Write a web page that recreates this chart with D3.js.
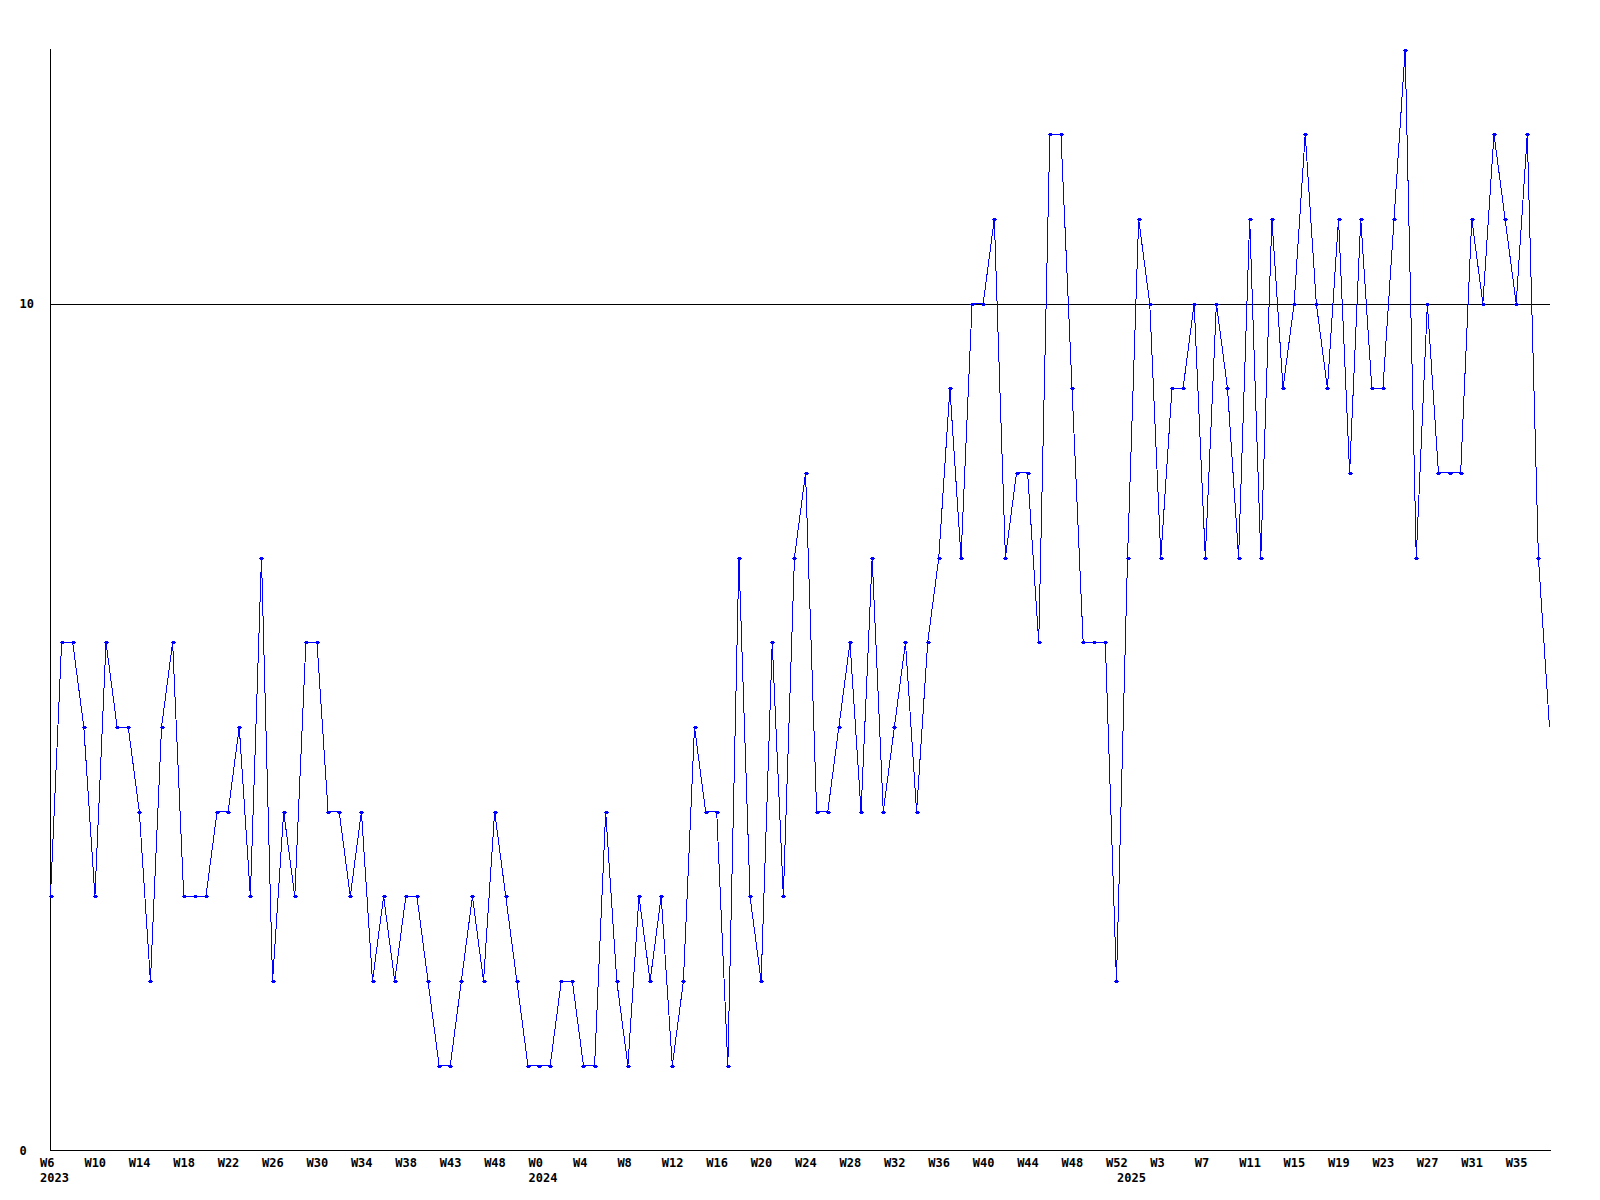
<!DOCTYPE html>
<html>
<head>
<meta charset="utf-8">
<script src="https://cdn.jsdelivr.net/npm/d3@7"></script>
<style>
  html, body { margin: 0; padding: 0; background: #fff; }
  svg { display: block; }
  .lbl { font-family: "DejaVu Sans Mono", monospace; font-weight: bold; font-size: 12px; fill: #000; }
</style>
</head>
<body>
<svg id="chart"></svg>
<script>
// weekly counts, one per week, first week is 2023 W6
const values = [
  3, 6, 6, 5, 3, 6, 5, 5, 4, 2, 5, 6, 3, 3, 3, 4, 4, 5, 3, 7, 2, 4, 3, 6,
  6, 4, 4, 3, 4, 2, 3, 2, 3, 3, 2, 1, 1, 2, 3, 2, 4, 3, 2, 1, 1, 1, 2,
  2, 1, 1, 4, 2, 1, 3, 2, 3, 1, 2, 5, 4, 4, 1, 7, 3, 2, 6, 3, 7, 8,
  4, 4, 5, 6, 4, 7, 4, 5, 6, 4, 6, 7, 9, 7, 10, 10, 11, 7, 8, 8, 6, 12, 12,
  9, 6, 6, 6, 2, 7, 11, 10, 7, 9, 9, 10, 7, 10, 9, 7, 11, 7, 11, 9, 10, 12, 10,
  9, 11, 8, 11, 9, 9, 11, 13, 7, 10, 8, 8, 8, 11, 10, 12, 11, 10, 12, 7, 5
];

// labels shown under every 4th week
const tickLabels = [
  "W6", "W10", "W14", "W18", "W22", "W26", "W30", "W34", "W38", "W43", "W48",
  "W0", "W4", "W8", "W12", "W16", "W20", "W24", "W28", "W32", "W36", "W40", "W44", "W48", "W52",
  "W3", "W7", "W11", "W15", "W19", "W23", "W27", "W31", "W35"
];
const tickEvery = 4;

const yearLabels = ["2023", "2024", "2025"];
const yearStart = [0, 44, 97];

const yTicks = [0, 10];

const width = 1600, height = 1200;
const svg = d3.select("#chart").attr("width", width).attr("height", height);

const x = d3.scalePoint()
    .domain(d3.range(values.length))
    .range([50.5, 1549.5]);

const y = d3.scaleLinear()
    .domain([0, d3.max(values)])
    .range([1150.5, 49.5]);

// gridline at 10
svg.selectAll(".grid")
    .data(yTicks.filter(d => d > 0))
    .enter().append("line")
    .attr("x1", 50).attr("x2", 1550)
    .attr("y1", d => Math.round(y(d)) + 0.5).attr("y2", d => Math.round(y(d)) + 0.5)
    .attr("stroke", "#000").attr("shape-rendering", "crispEdges");

// axes
svg.append("line")
    .attr("x1", 50.5).attr("x2", 50.5).attr("y1", 49).attr("y2", 1151)
    .attr("stroke", "#000").attr("shape-rendering", "crispEdges");
svg.append("line")
    .attr("x1", 50).attr("x2", 1551).attr("y1", 1150.5).attr("y2", 1150.5)
    .attr("stroke", "#000").attr("shape-rendering", "crispEdges");

// y labels
svg.selectAll(".ylbl")
    .data(yTicks)
    .enter().append("text")
    .attr("class", "lbl")
    .attr("x", 19.5)
    .attr("y", d => y(d))
    .attr("dy", "0.36em")
    .text(d => d);

// x tick labels, placed as if 3 chars wide centered on the week
const tickIdx = tickLabels.map((t, i) => i * tickEvery);
svg.selectAll(".xlbl")
    .data(tickIdx)
    .enter().append("text")
    .attr("class", "lbl")
    .attr("x", d => x(d) - 10.5)
    .attr("y", 1163)
    .attr("dy", "0.36em")
    .text((d, i) => tickLabels[i]);

svg.selectAll(".year")
    .data(yearLabels)
    .enter().append("text")
    .attr("class", "lbl")
    .attr("x", (d, i) => x(yearStart[i]) - 10.5)
    .attr("y", 1177.5)
    .attr("dy", "0.36em")
    .text(d => d);

// series line
const line = d3.line()
    .x((d, i) => x(i))
    .y(d => y(d));

svg.append("path")
    .datum(values)
    .attr("d", line)
    .attr("fill", "none")
    .attr("stroke", "#0000ff")
    .attr("stroke-width", 1)
    .attr("shape-rendering", "crispEdges");

// small markers (last week has none)
svg.selectAll(".mk")
    .data(values.slice(0, -1))
    .enter().append("path")
    .attr("d", (d, i) => {
        const cx = Math.round(x(i)), cy = Math.round(y(d));
        return `M${cx - 2},${cy}h5v1h-5z M${cx - 1},${cy - 1}h3v3h-3z`;
    })
    .attr("fill", "#0000ff")
    .attr("shape-rendering", "crispEdges");
</script>
</body>
</html>
